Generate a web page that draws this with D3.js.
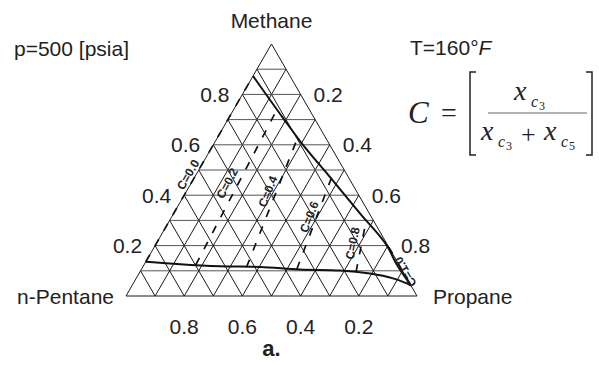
<!DOCTYPE html>
<html>
<head>
<meta charset="utf-8">
<script src="https://cdn.jsdelivr.net/npm/d3@7"></script>
<style>
  html, body { margin: 0; padding: 0; background: #fff; }
  svg { display: block; }
  .lbl { font-family: "Liberation Sans", Arial, sans-serif; fill: #222; }
  .math { font-family: "Liberation Serif", "Times New Roman", serif; fill: #222; }
</style>
</head>
<body>
<svg id="chart" width="599" height="365"></svg>
<script>
// Ternary diagram: Methane (top), n-Pentane (bottom left), Propane (bottom right)
// Compositions are given as [methane, propane]; n-pentane = 1 - methane - propane.

const vertexNames = ["Methane", "n-Pentane", "Propane"];
const gridFractions = [0.1, 0.2, 0.3, 0.4, 0.5, 0.6, 0.7, 0.8, 0.9];
const methaneTicks = [0.8, 0.6, 0.4, 0.2];      // left edge
const propaneTicks = [0.2, 0.4, 0.6, 0.8];      // right edge
const pentaneTicks = [0.8, 0.6, 0.4, 0.2];      // bottom edge

// Dew-point (vapour) boundary
const vaporCurve = [
  [0.873, 0.000], [0.705, 0.188], [0.606, 0.301], [0.468, 0.470],
  [0.328, 0.640], [0.194, 0.803], [0.131, 0.862], [0.044, 0.956]
];
// Bubble-point (liquid) boundary
const liquidCurve = [
  [0.136, 0.000], [0.126, 0.123], [0.118, 0.264], [0.115, 0.403],
  [0.105, 0.545], [0.101, 0.685], [0.089, 0.794], [0.071, 0.879],
  [0.044, 0.956]
];
// Lines of constant C = xC3 / (xC3 + xC5): liquid end, vapour end
const cValues = [0.0, 0.2, 0.4, 0.6, 0.8, 1.0];
const cLiquidEnds = [[0.136, 0.000], [0.123, 0.178], [0.114, 0.357], [0.106, 0.534], [0.095, 0.743], [0.044, 0.956]];
const cVaporEnds  = [[0.873, 0.000], [0.735, 0.149], [0.621, 0.277], [0.472, 0.471], [0.298, 0.676], [0.194, 0.806]];

(function draw() {
  const svg = d3.select("#chart");
  const H = Math.sqrt(3) / 2;
  const x = d3.scaleLinear().domain([0, 1]).range([126, 417]);
  const y = d3.scaleLinear().domain([0, H]).range([296, 44]);
  const proj = (m, p) => [x(p + m / 2), y(m * H)];
  const line = d3.line();

  // grid
  const g = svg.append("g");
  const gridSegs = [];
  gridFractions.forEach(f => {
    gridSegs.push({ kind: "h", pts: [proj(f, 0), proj(f, 1 - f)] });          // constant methane
    gridSegs.push({ kind: "d", pts: [proj(0, f), proj(1 - f, f)] });          // constant propane
    gridSegs.push({ kind: "d", pts: [proj(0, 1 - f), proj(1 - f, 0)] });      // constant pentane
  });
  g.selectAll("path.grid").data(gridSegs).join("path")
    .attr("class", "grid")
    .attr("d", d => line(d.pts))
    .attr("fill", "none")
    .attr("stroke", d => d.kind === "h" ? "#555" : "#1a1a1a")
    .attr("stroke-width", 1);

  // outline
  g.append("path")
    .attr("d", line([proj(0, 0), proj(0, 1), proj(1, 0), proj(0, 0)]))
    .attr("fill", "none").attr("stroke", "#1a1a1a").attr("stroke-width", 1);

  // constant-C dashed lines
  const cLines = cValues.map((c, i) => ({ c, a: proj(...cLiquidEnds[i]), b: proj(...cVaporEnds[i]) }));
  g.selectAll("path.cline").data(cLines).join("path")
    .attr("class", "cline")
    .attr("d", d => line([d.a, d.b]))
    .attr("fill", "none").attr("stroke", "#111")
    .attr("stroke-width", 1.7)
    .attr("stroke-dasharray", "8,10");

  // phase boundaries
  const dew = d3.line().curve(d3.curveMonotoneY);
  const bubble = d3.line().curve(d3.curveMonotoneX);
  g.append("path").attr("d", dew(vaporCurve.map(d => proj(...d))))
    .attr("fill", "none").attr("stroke", "#111").attr("stroke-width", 2);
  g.append("path").attr("d", bubble(liquidCurve.map(d => proj(...d))))
    .attr("fill", "none").attr("stroke", "#111").attr("stroke-width", 2);

  // C labels placed along their lines
  const cLabelPlace = { "0.0": [0.45, 7], "0.2": [0.5, 10], "0.4": [0.57, 8], "0.6": [0.54, 7], "0.8": [0.53, 9], "1.0": [0.32, -2] };
  cLines.forEach(d => {
    const key = d.c.toFixed(1);
    const a = d.a, b = d.b;
    const [t, off] = cLabelPlace[key];
    const dx = b[0] - a[0], dy = b[1] - a[1];
    const len = Math.hypot(dx, dy);
    let px = a[0] + dx * t, py = a[1] + dy * t;
    px += (dy / len) * off; py += (-dx / len) * off;
    const ang = Math.atan2(dy, dx) * 180 / Math.PI;
    g.append("text").attr("class", "lbl")
      .attr("transform", `translate(${px},${py}) rotate(${ang})`)
      .attr("text-anchor", "middle").attr("dy", "0.35em")
      .attr("font-size", 12).attr("font-weight", "bold")
      .text("C=" + key);
  });

  // tick labels
  const fs = 21;
  methaneTicks.forEach(m => {
    const [ex, ey] = proj(m, 0);
    svg.append("text").attr("class", "lbl").attr("x", ex - 13).attr("y", ey)
      .attr("dy", "0.36em").attr("text-anchor", "end").attr("font-size", fs).text(m.toFixed(1));
  });
  propaneTicks.forEach(p => {
    const [ex, ey] = proj(1 - p, p);
    svg.append("text").attr("class", "lbl").attr("x", ex + 13).attr("y", ey)
      .attr("dy", "0.36em").attr("text-anchor", "start").attr("font-size", fs).text(p.toFixed(1));
  });
  pentaneTicks.forEach(q => {
    const [ex, ey] = proj(0, 1 - q);
    svg.append("text").attr("class", "lbl").attr("x", ex).attr("y", ey + 38)
      .attr("text-anchor", "middle").attr("font-size", fs).text(q.toFixed(1));
  });

  // vertex names
  const apex = proj(1, 0), leftV = proj(0, 0), rightV = proj(0, 1);
  svg.append("text").attr("class", "lbl").attr("x", apex[0]).attr("y", apex[1] - 16)
    .attr("text-anchor", "middle").attr("font-size", fs).text(vertexNames[0]);
  svg.append("text").attr("class", "lbl").attr("x", leftV[0] - 12).attr("y", leftV[1])
    .attr("dy", "0.36em").attr("text-anchor", "end").attr("font-size", fs).text(vertexNames[1]);
  svg.append("text").attr("class", "lbl").attr("x", rightV[0] + 16).attr("y", rightV[1])
    .attr("dy", "0.36em").attr("text-anchor", "start").attr("font-size", fs).text(vertexNames[2]);

  // conditions
  svg.append("text").attr("class", "lbl").attr("x", 14).attr("y", 56).attr("font-size", fs).text("p=500 [psia]");
  const tt = svg.append("text").attr("class", "lbl").attr("x", 410).attr("y", 55).attr("font-size", fs);
  tt.append("tspan").text("T=160°");
  tt.append("tspan").attr("font-style", "italic").text("F");

  // panel tag
  svg.append("text").attr("class", "lbl").attr("x", apex[0]).attr("y", 356)
    .attr("text-anchor", "middle").attr("font-size", 22).attr("font-weight", "bold").text("a.");

  // definition of C
  const fm = svg.append("g");
  fm.append("text").attr("class", "math").attr("x", 408).attr("y", 123)
    .attr("font-size", 31).attr("font-style", "italic").text("C");
  fm.append("text").attr("class", "math").attr("x", 441).attr("y", 122)
    .attr("font-size", 28).text("=");
  const bracket = (x0, dir) => `M${x0 + dir * 6},72 H${x0} V155 H${x0 + dir * 6}`;
  fm.append("path").attr("d", bracket(470, 1)).attr("fill", "none").attr("stroke", "#222").attr("stroke-width", 1.5);
  fm.append("path").attr("d", bracket(592, -1)).attr("fill", "none").attr("stroke", "#222").attr("stroke-width", 1.5);
  fm.append("line").attr("x1", 488).attr("x2", 587).attr("y1", 113).attr("y2", 113)
    .attr("stroke", "#666").attr("stroke-width", 1.2);
  const xsub = (x0, y0, sub) => {
    fm.append("text").attr("class", "math").attr("x", x0).attr("y", y0)
      .attr("font-size", 28).attr("font-style", "italic").text("x");
    fm.append("text").attr("class", "math").attr("x", x0 + 17).attr("y", y0 + 7)
      .attr("font-size", 16).attr("font-style", "italic").text("c");
    fm.append("text").attr("class", "math").attr("x", x0 + 25).attr("y", y0 + 10)
      .attr("font-size", 12).text(sub);
  };
  xsub(514, 100, "3");
  xsub(481, 140, "3");
  fm.append("text").attr("class", "math").attr("x", 521).attr("y", 143).attr("font-size", 26).text("+");
  xsub(544, 140, "5");
})();
</script>
</body>
</html>
